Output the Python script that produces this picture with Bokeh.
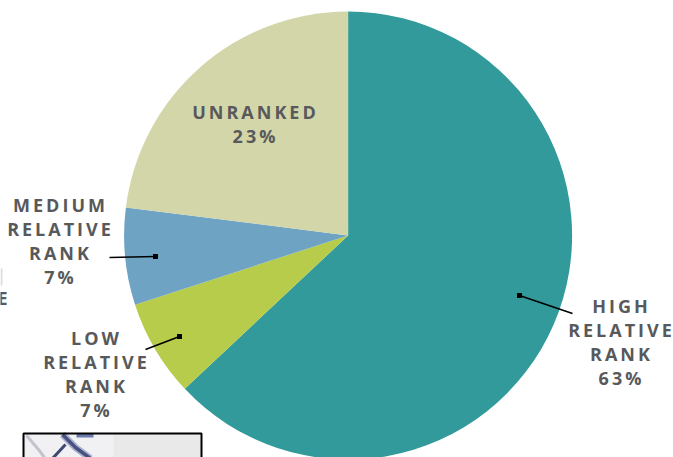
from math import pi
from bokeh.plotting import figure
from bokeh.embed import file_html
from bokeh.resources import INLINE
from bokeh.models import ColumnDataSource, Range1d
from bokeh.core.properties import value

categories = ["High relative rank", "Low relative rank", "Medium relative rank", "Unranked"]
shares = [63, 7, 7, 23]
colors = ["#329a9a", "#b7cc4a", "#6fa3c4", "#d3d6a9"]
labels = [["HIGH", "RELATIVE", "RANK", "63%"], ["LOW", "RELATIVE", "RANK", "7%"],
          ["MEDIUM", "RELATIVE", "RANK", "7%"], ["UNRANKED", "23%"]]

W, H = 673, 457
CX, CY, R = 347.6, 235, 224
LETTER = 3
def Y(v): return H - v

# pie angles: clockwise from 12 o'clock
ends, run = [], 0
starts = []
for s in shares:
    a = pi / 2 - run / sum(shares) * 2 * pi
    run += s
    b = pi / 2 - run / sum(shares) * 2 * pi
    starts.append(b)
    ends.append(a)

p = figure(width=W, height=H, output_backend="svg", toolbar_location=None,
           x_range=Range1d(0, W), y_range=Range1d(0, H), min_border=0,
           outline_line_color=None, background_fill_color="white", border_fill_color="white")
p.axis.visible = False
p.grid.visible = False
p.styles = {"position": "absolute", "left": "0px", "top": "0px", "letter-spacing": f"{LETTER}px"}

src = ColumnDataSource(dict(start=starts, end=ends, color=colors, cat=categories))
p.wedge(x=CX, y=Y(CY), radius=R, start_angle="start", end_angle="end", fill_color="color",
        line_color=None, source=src)

# inset map fragment at the lower left
p.quad(left=[23], right=[201], top=[Y(433)], bottom=[Y(470)], fill_color="#e9e9e9", line_color=None)
p.quad(left=[25], right=[113], top=[Y(434)], bottom=[Y(470)], fill_color="#f1f1f4", line_color=None)
p.line([26, 38, 44], [Y(435), Y(449), Y(457)], line_color="#c4c5cc", line_width=3)
p.line([62, 75, 90], [Y(434), Y(447), Y(458)], line_color="#a9b0cf", line_width=7)
p.line([62, 75, 90], [Y(434), Y(447), Y(458)], line_color="#47527f", line_width=3.5)
p.line([65, 52], [Y(444), Y(458)], line_color="#3f4a70", line_width=3)
p.line([76, 93], [Y(435), Y(435)], line_color="#6c7aab", line_width=4)
p.quad(left=[23], right=[201], top=[Y(433)], bottom=[Y(470)], fill_color=None, line_color="black", line_width=2)

# leader lines and their square ends
lead_x = [[519, 572], [179, 145], [155, 109]]
lead_y = [[Y(295), Y(313)], [Y(336), Y(349)], [Y(256), Y(257)]]
p.multi_line(lead_x, lead_y, line_color="black", line_width=1.6)
p.scatter([l[0] for l in lead_x], [l[0] for l in lead_y], marker="square", size=5,
          fill_color="black", line_color=None)

# labels: one text per line; x compensates the letter spacing the layout does not measure
anchor_x = [621, 96, 60, 255]
anchor_y = [305.8, 337.5, 204.5, 111.5]
LINE = 24
tx, ty, tt = [], [], []
for ax, ay, lines in zip(anchor_x, anchor_y, labels):
    for i, line in enumerate(lines):
        tx.append(ax - len(line) * LETTER / 2)
        ty.append(Y(ay + i * LINE))
        tt.append(line)
p.text(tx, ty, text=tt, text_font=value("Open Sans"), text_font_style="bold",
       text_font_size="18px", text_color="#58595b", text_align="center", text_baseline="middle")

# clipped fragments of a neighbouring label at the left edge
p.text([7], [Y(297)], text=["E"], text_font=value("Open Sans"), text_font_style="bold",
       text_font_size="18px", text_color="#58595b", text_align="right", text_baseline="middle")
p.quad(left=[0], right=[2], top=[Y(268)], bottom=[Y(285)], fill_color="#dddddd", line_color=None)

open("out.html", "w").write(file_html(p, INLINE))
